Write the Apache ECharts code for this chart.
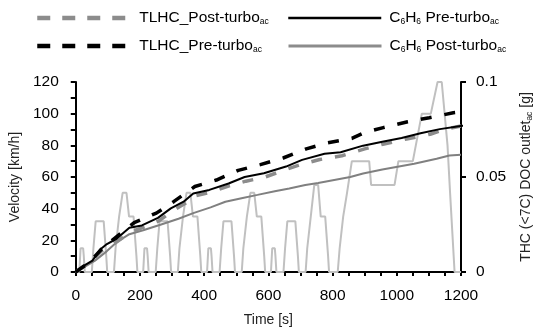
<!DOCTYPE html>
<html>
<head>
<meta charset="utf-8">
<script src="https://cdn.jsdelivr.net/npm/echarts@6/dist/echarts.min.js"></script>
<style>html,body{margin:0;padding:0;background:#fff;}#c{width:542px;height:332px;}</style>
</head>
<body>
<div id="c"></div>
<script>
// ---- data (time [s], value) ----
const xTicks = [0, 200, 400, 600, 800, 1000, 1200];
const leftTicks = [0, 20, 40, 60, 80, 100, 120];
const rightTicks = [0, 0.05, 0.1];

const velocity = [
  [0,0],[11,0],[15,15],[23,15],[25,10],[28,0],[50,0],[55,15],[57,15],[62,32],[87,32],[95,10],[98,0],
  [119,0],[124,15],[126,15],[135,35],[137,35],[146,50],[158,50],[166,35],[180,35],[182,35],[189,10],[192,0],
  [210,0],[214,15],[222,15],[224,10],[227,0],[249,0],[254,15],[256,15],[261,32],[286,32],[294,10],[297,0],
  [318,0],[323,15],[325,15],[334,35],[336,35],[345,50],[357,50],[365,35],[379,35],[381,35],[388,10],[391,0],
  [409,0],[413,15],[421,15],[423,10],[426,0],[448,0],[453,15],[455,15],[460,32],[485,32],[493,10],[496,0],
  [517,0],[522,15],[524,15],[533,35],[535,35],[544,50],[556,50],[564,35],[578,35],[580,35],[587,10],[590,0],
  [608,0],[612,15],[620,15],[622,10],[625,0],[647,0],[652,15],[654,15],[659,32],[684,32],[692,10],[695,0],
  [716,0],[721,15],[723,15],[732,35],[734,35],[743,55],[755,55],[763,35],[777,35],[779,35],[786,10],[789,0],
  [816,0],[822,15],[824,15],[833,35],[835,35],[845,50],[847,50],[860,70],[914,70],[920,55],[993,55],
  [1005,70],[1050,70],[1078,100],[1106,100],[1127,120],[1140,120],[1158,80],[1166,50],[1180,0],[1200,0]
];

const tlhcPost = [
  [0,0],[25,0.003],[50,0.006],[80,0.011],[120,0.015],[170,0.021],[210,0.0235],[260,0.027],[300,0.032],
  [340,0.036],[370,0.040],[420,0.042],[480,0.0455],[530,0.0478],[590,0.050],[655,0.054],[700,0.0565],
  [760,0.0592],[829,0.0612],[900,0.0648],[960,0.0674],[1030,0.070],[1104,0.0725],[1150,0.0752],[1200,0.0768]
];

const tlhcPre = [
  [0,0],[25,0.003],[50,0.0065],[80,0.012],[119,0.0175],[182,0.026],[251,0.031],[305,0.037],[371,0.045],
  [438,0.0484],[506,0.0535],[575,0.0565],[646,0.060],[718,0.0648],[785,0.068],[860,0.0703],[900,0.0734],
  [958,0.076],[1034,0.0791],[1101,0.0812],[1176,0.0838],[1200,0.0842]
];

const c6h6Pre = [
  [0,0],[27,0.0035],[52,0.006],[77,0.012],[97,0.0147],[127,0.0175],[167,0.0233],[206,0.0245],[256,0.0285],
  [296,0.0335],[336,0.037],[366,0.0413],[416,0.0432],[476,0.0466],[526,0.050],[586,0.052],[655,0.0555],
  [705,0.059],[775,0.0622],[825,0.063],[895,0.0665],[955,0.0685],[1015,0.0705],[1074,0.073],[1134,0.0752],
  [1199,0.0768],[1230,0.0775]
];

const c6h6Post = [
  [0,0],[30,0.003],[60,0.006],[97,0.011],[130,0.016],[167,0.0199],[210,0.022],[266,0.025],[320,0.028],
  [366,0.031],[420,0.034],[466,0.037],[520,0.039],[566,0.0406],[620,0.0425],[665,0.044],[715,0.0458],
  [755,0.0468],[855,0.050],[895,0.0518],[955,0.054],[1054,0.057],[1124,0.0596],[1164,0.0613],[1200,0.0617]
];

const names = {
  tp: 'TLHC_Post-turbo_ac',
  tr: 'TLHC_Pre-turbo_ac',
  cr: 'C6H6 Pre-turbo_ac',
  cp: 'C6H6 Post-turbo_ac'
};
const legendLabels = {
  'TLHC_Post-turbo_ac': 'TLHC_Post-turbo{s|ac}',
  'TLHC_Pre-turbo_ac': 'TLHC_Pre-turbo{s|ac}',
  'C6H6 Pre-turbo_ac': 'C{s|6}H{s|6} Pre-turbo{s|ac}',
  'C6H6 Post-turbo_ac': 'C{s|6}H{s|6} Post-turbo{s|ac}'
};

const FF = 'Liberation Sans, Arial, Helvetica, sans-serif';
const TICK_FS = 15.5;
const NAME_FS = 14;
const chart = echarts.init(document.getElementById('c'), null, {renderer: 'canvas'});

function legend(name, left, top, w, pad, lineStyle) {
  return {
    data: [name], left: left, top: top, itemWidth: w, itemHeight: 12, padding: 0,
    selectedMode: false,
    lineStyle: lineStyle, itemStyle: {opacity: 0},
    formatter: n => legendLabels[n],
    textStyle: {
      fontFamily: FF, fontSize: 15.5, color: '#000', padding: [0,0,0,pad],
      rich: { s: { fontFamily: FF, fontSize: 8.5, color: '#000', verticalAlign: 'bottom', padding: [7,0,0,0] } }
    }
  };
}

const axisLineStyle = {color: '#000', width: 2};

chart.setOption({
  animation: false,
  backgroundColor: '#fff',
  legend: [
    legend(names.tp, 35, 10, 88, 9, {type: [13,12], width: 4.5, color: '#8c8c8c', cap: 'butt'}),
    legend(names.cr, 287, 10, 93, 3, {type: 'solid', width: 2.5, color: '#000'}),
    legend(names.tr, 35, 38, 88, 9, {type: [13,12], width: 4.5, color: '#000', cap: 'butt'}),
    legend(names.cp, 287, 38, 93, 3, {type: 'solid', width: 3, color: '#8c8c8c'})
  ],
  grid: {left: 71, right: 70, top: 82, bottom: 57, containLabel: false},
  xAxis: {
    type: 'value', min: xTicks[0], max: xTicks[xTicks.length-1], interval: 200,
    name: 'Time [s]', nameLocation: 'middle', nameGap: 41,
    nameTextStyle: {fontFamily: FF, fontSize: NAME_FS, color: '#222'},
    axisLine: {show: true, onZero: false, lineStyle: axisLineStyle},
    axisTick: {show: true, length: 4, lineStyle: {color: '#000', width: 2}},
    minorTick: {show: true, splitNumber: 4, length: 4, lineStyle: {color: '#000', width: 2}},
    axisLabel: {fontFamily: FF, fontSize: TICK_FS, color: '#000', margin: 16, formatter: v => String(v)},
    splitLine: {show: false}
  },
  yAxis: [
    {
      type: 'value', min: leftTicks[0], max: leftTicks[leftTicks.length-1], interval: 20,
      name: 'Velocity [km/h]', nameLocation: 'middle', nameGap: 47, nameRotate: 90,
      nameTextStyle: {fontFamily: FF, fontSize: NAME_FS, color: '#222'},
      axisLine: {show: true, onZero: false, lineStyle: axisLineStyle},
      axisTick: {show: true, length: 5, lineStyle: {color: '#000', width: 2}},
      minorTick: {show: true, splitNumber: 2, length: 5, lineStyle: {color: '#000', width: 2}},
      axisLabel: {fontFamily: FF, fontSize: TICK_FS, color: '#000', margin: 17, formatter: v => String(v)},
      splitLine: {show: false}
    },
    {
      type: 'value', position: 'right', min: rightTicks[0], max: rightTicks[rightTicks.length-1], interval: 0.05,
      name: 'THC (<7C) DOC outlet{s|ac} [g]', nameLocation: 'middle', nameGap: 58, nameRotate: 90,
      nameTextStyle: {fontFamily: FF, fontSize: NAME_FS, color: '#222',
        rich: {s: {fontFamily: FF, fontSize: 8.5, color: '#222', verticalAlign: 'bottom', padding: [6,0,0,0]}}},
      axisLine: {show: true, onZero: false, lineStyle: axisLineStyle},
      axisTick: {show: true, length: 5, lineStyle: {color: '#000', width: 2}},
      axisLabel: {fontFamily: FF, fontSize: TICK_FS, color: '#000', margin: 15, formatter: v => String(v)},
      splitLine: {show: false}
    }
  ],
  series: [
    {name: 'Velocity', type: 'line', yAxisIndex: 0, data: velocity, symbol: 'none', z: 1,
     lineStyle: {color: '#c0c0c0', width: 2}, itemStyle: {color: '#c0c0c0'}},
    {name: names.cp, type: 'line', yAxisIndex: 1, data: c6h6Post, symbol: 'none', z: 2,
     lineStyle: {color: '#808080', width: 2}, itemStyle: {color: '#808080'}},
    {name: names.tp, type: 'line', yAxisIndex: 1, data: tlhcPost, symbol: 'none', z: 3,
     lineStyle: {color: '#8c8c8c', width: 3.5, type: [11,13]}, itemStyle: {color: '#8c8c8c'}},
    {name: names.cr, type: 'line', yAxisIndex: 1, data: c6h6Pre, symbol: 'none', z: 4, clip: false,
     lineStyle: {color: '#000', width: 2}, itemStyle: {color: '#000'}},
    {name: names.tr, type: 'line', yAxisIndex: 1, data: tlhcPre, symbol: 'none', z: 5,
     lineStyle: {color: '#000', width: 3.5, type: [11,13]}, itemStyle: {color: '#000'}}
  ]
});
</script>
</body>
</html>
